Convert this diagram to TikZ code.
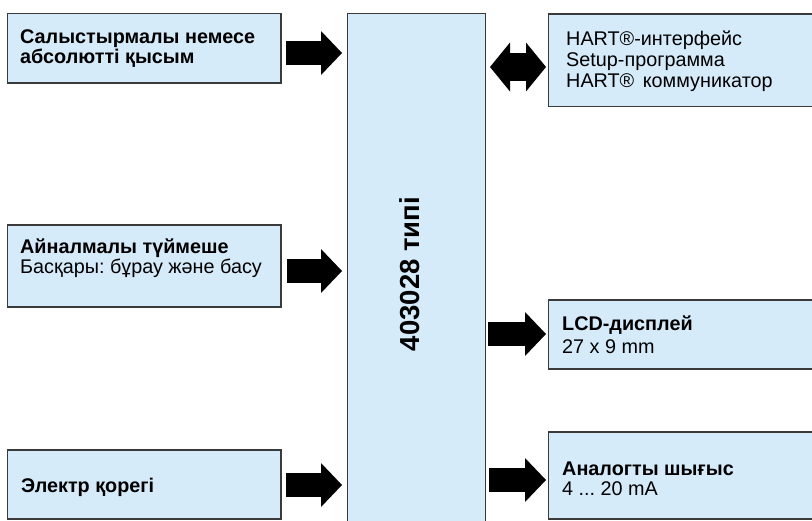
\documentclass[tikz,border=0pt]{standalone}
\usepackage{fontspec}
\setmainfont{Liberation Sans}
\usetikzlibrary{arrows.meta}
\definecolor{boxfill}{RGB}{214,235,250}
\definecolor{boxline}{RGB}{58,58,58}
\frenchspacing
\begin{document}
\begin{tikzpicture}[x=1pt,y=-1pt,
  box/.style={draw=boxline, fill=boxfill, line width=1.3pt, inner sep=0pt, rectangle},
  txt/.style={anchor=base west, inner sep=0pt, font=\fontsize{19.8}{22}\selectfont},
  btxt/.style={txt, font=\fontsize{19.8}{22}\selectfont\bfseries},
  blockarr/.style={line width=24pt, -{Triangle[length=21pt,width=44pt,line width=0pt]}},
  dblarr/.style={line width=28pt, {Triangle[length=20pt,width=49pt,line width=0pt]}-{Triangle[length=20pt,width=49pt,line width=0pt]}}
]
\useasboundingbox (0,0) rectangle (812,520);
\clip (0,0) rectangle (812,520);

% boxes
\node[box, minimum width=273.5pt, minimum height=69.5pt] (L1) at (144.25,48.25) {};
\node[box, minimum width=273.5pt, minimum height=82pt] (L2) at (144.25,266) {};
\node[box, minimum width=273.5pt, minimum height=69pt] (L3) at (144.25,484.5) {};
\node[box, minimum width=138.2pt, minimum height=526.5pt] (C) at (416.6,276.75) {};
\node[box, minimum width=281.7pt, minimum height=92.5pt] (R1) at (689.15,60.25) {};
\node[box, minimum width=281.7pt, minimum height=69pt] (R2) at (689.15,334.5) {};
\node[box, minimum width=281.7pt, minimum height=87pt] (R3) at (689.15,475.5) {};

% texts
\node[btxt] (t1a) at (20,43) {Салыстырмалы немесе};
\node[btxt] (t1b) at (20,63) {абсолютті қысым};
\node[btxt] (t2a) at (20,253) {Айналмалы түймеше};
\node[txt]  (t2b) at (20,273) {Басқары: бұрау және басу};
\node[btxt] (t3a) at (21,492) {Электр қорегі};
\node[txt]  (r1a) at (566,45) {HART®-интерфейс};
\node[txt]  (r1b) at (566,66) {Setup-программа};
\node[txt]  (r1c) at (566,87) {HART®\hspace{3pt} коммуникатор};
\node[btxt] (r2a) at (562,330) {LCD-дисплей};
\node[txt]  (r2b) at (562,353) {27 x 9 mm};
\node[btxt] (r3a) at (562,475) {Аналогты шығыс};
\node[txt]  (r3b) at (562,495) {4 ... 20 mA};
\node[rotate=90, inner sep=0pt, font=\fontsize{27.5}{31}\selectfont\bfseries] (ct) at (410,274) {403028 типі};

% arrows
\coordinate (a1s) at (286,53);  \coordinate (a1e) at (342,53);
\coordinate (a2s) at (287,271); \coordinate (a2e) at (342,271);
\coordinate (a3s) at (286,485); \coordinate (a3e) at (342,485);
\coordinate (d1s) at (490,67);  \coordinate (d1e) at (546,67);
\coordinate (a4s) at (488,334); \coordinate (a4e) at (546,334);
\coordinate (a5s) at (489,480); \coordinate (a5e) at (546,480);
\draw[blockarr] (a1s) -- (a1e);
\draw[blockarr] (a2s) -- (a2e);
\draw[blockarr] (a3s) -- (a3e);
\draw[dblarr] (d1s) -- (d1e);
\draw[blockarr] (a4s) -- (a4e);
\draw[blockarr] (a5s) -- (a5e);
\end{tikzpicture}
\end{document}
